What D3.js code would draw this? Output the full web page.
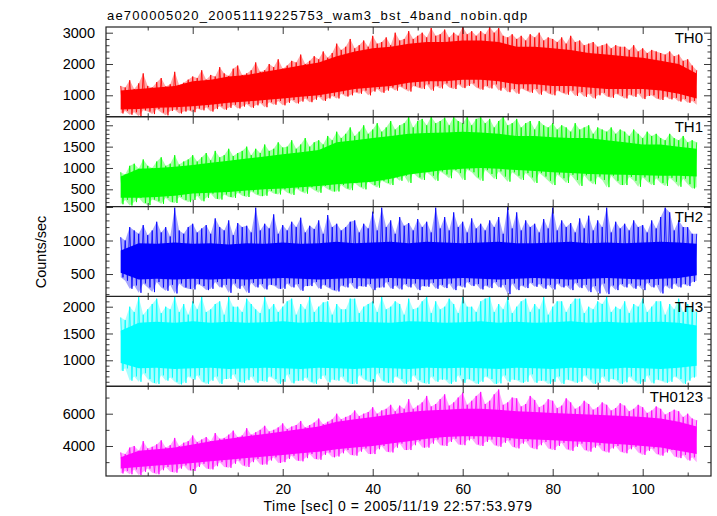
<!DOCTYPE html>
<html><head><meta charset="utf-8">
<script src="https://cdn.jsdelivr.net/npm/d3@7/dist/d3.min.js"></script>
<style>
body{margin:0;background:#fff;}
svg text{font-family:"Liberation Sans",Arial,Helvetica,sans-serif;fill:#000;}
</style></head><body>
<svg id="c" width="717" height="516"></svg>
<script>
// ---------- text ----------
const titleText = "ae700005020_20051119225753_wam3_bst_4band_nobin.qdp";
const xLabelText = "Time [sec] 0 = 2005/11/19 22:57:53.979";
const yLabelText = "Counts/sec";
const seriesNames = ["TH0", "TH1", "TH2", "TH3", "TH0123"];
const seriesColors = ["#ff0000", "#00ff00", "#0000ff", "#00ffff", "#ff00ff"];

// ---------- axes ----------
const xDomain = [-19.27, 115.18];
const xMajorTicks = [0, 20, 40, 60, 80, 100];
const xMinorTicks = [-10, 10, 30, 50, 70, 90, 110];
const yDomains = [[313, 3182], [95, 2199], [166, 1506], [517, 2192], [2142, 7703]];
const yMajorTicks = [[1000, 2000, 3000], [500, 1000, 1500, 2000], [500, 1000, 1500], [1000, 1500, 2000], [4000, 6000]];
const yMinorStep = [200, 100, 100, 100, 1000];

// ---------- data sampling ----------
const coreStart = -16, coreStep = 4;   // dense (solid) part of the band, every 4 s
const extStart = -16, extStep = 1;     // spike maxima / minima, every 1 s (t = -16 ... 112)

// TH0
const th0CoreHi = [1150,1200,1250,1300,1450,1500,1600,1650,1750,1850,1950,2050,2250,2400,2500,2550,2650,2700,2700,2750,2750,2700,2550,2550,2500,2450,2350,2300,2250,2200,2100,2000,1700];
const th0CoreLo = [550,560,600,620,650,700,760,800,850,900,950,1000,1100,1200,1250,1300,1400,1450,1450,1500,1500,1450,1350,1350,1300,1300,1250,1200,1200,1200,1150,1050,900];
const th0Hi = [1300,1250,1480,1200,1380,1700,1300,1250,1420,1550,1280,1350,1750,1320,1400,1500,
  1600,1550,1800,1500,1650,1600,1900,1700,1620,1850,1950,1650,1700,1800,2050,1750,
  1800,2000,1900,2150,1850,1950,2100,2050,2300,2000,2100,2250,2150,2400,2200,2350,
  2650,2450,2550,2800,2500,2600,2750,2550,2900,2650,2700,2850,2600,3000,2750,2800,
  3050,2800,2900,3000,2850,3150,2900,2950,3100,2850,3000,2900,3180,2950,3050,2900,
  3050,2950,3180,3000,3150,2900,2850,2950,2800,2900,2750,2950,2850,3000,2750,2850,
  2800,2700,2850,2650,2900,2700,2750,2600,2650,2700,2550,2600,2650,2500,2600,2550,
  2550,2450,2600,2400,2500,2350,2450,2400,2350,2300,2400,2250,2300,2100,2150,1950,1800];
const th0Lo = [420,500,380,460,330,520,480,400,560,450,360,500,540,420,480,520,
  460,580,520,620,480,560,650,540,600,700,580,640,720,600,680,750,
  620,780,700,820,680,760,850,740,800,900,780,860,950,820,900,980,
  900,1050,960,1000,1100,1050,1150,1000,1120,1200,1080,1150,1250,1150,1280,1200,
  1120,1300,1250,1200,1350,1150,1300,1220,1380,1250,1200,1350,1230,1300,1380,1250,
  1180,1300,1220,1350,1150,1250,1100,1200,1050,1220,1150,1080,1200,1020,1150,1060,
  1000,1150,1080,1020,1150,980,1100,950,1050,900,1000,1080,960,920,1050,980,
  900,1020,950,1060,880,980,1000,900,850,960,870,920,800,880,760,820,700];

// TH1
const th1CoreHi = [800,980,1000,1030,1070,1120,1170,1220,1270,1320,1370,1420,1600,1650,1700,1750,1800,1820,1830,1850,1830,1800,1750,1750,1720,1700,1700,1650,1600,1550,1550,1500,1450];
const th1CoreLo = [300,300,320,350,400,420,440,470,500,520,550,580,620,650,680,750,850,900,950,980,1000,980,950,930,900,880,860,850,840,830,820,820,800];
const th1Hi = [900,850,1050,1100,980,1200,1050,1000,1150,1250,1050,1100,1300,1080,1150,1200,
  1300,1150,1250,1350,1180,1400,1250,1300,1450,1280,1350,1400,1500,1300,1450,1350,
  1550,1400,1450,1600,1480,1500,1650,1450,1550,1700,1500,1600,1650,1550,1750,1650,
  1850,1700,1800,1950,1750,1850,2000,1800,1900,2050,1850,1950,2100,1900,2000,2050,
  2200,1950,2100,2150,2000,2200,2050,2100,2180,2000,2200,2100,2050,2200,2000,2150,
  2200,2050,2150,1950,2100,2200,2000,2050,2150,1950,2050,2100,1900,2100,2000,1950,
  2050,1900,2000,1950,1850,2050,1900,1950,2000,1800,1950,1900,1850,1950,1800,1900,
  1850,1750,1900,1800,1700,1850,1750,1800,1700,1650,1800,1700,1650,1750,1600,1650,1600];
const th1Lo = [150,250,120,200,300,180,130,260,220,160,300,200,180,320,250,200,
  250,350,220,300,400,280,260,380,320,300,420,350,320,450,380,340,
  350,460,400,380,500,420,370,520,450,400,550,480,420,580,500,450,
  450,600,520,480,650,560,500,680,600,540,700,650,600,780,700,820,
  650,880,780,720,900,820,700,920,850,760,950,880,720,960,900,780,
  700,950,860,740,920,800,680,900,820,720,880,780,650,880,800,700,
  600,850,760,650,840,720,580,830,700,620,800,720,550,820,700,600,
  600,790,700,560,780,680,600,760,650,580,770,680,560,750,620,520,550];

// TH2
const th2CoreHi = [850,960,950,970,950,960,940,960,950,970,950,960,980,960,970,980,960,980,970,960,970,980,960,960,970,980,960,970,960,970,980,970,950];
const th2CoreLo = [520,420,430,420,430,420,430,420,430,440,430,420,430,440,430,440,430,420,430,440,430,420,430,440,430,420,430,440,430,420,430,440,480];
const th2Hi = [1050,1000,1200,1150,1100,1230,1080,1150,1280,1120,1200,1060,1490,1150,1100,1200,
  1250,1120,1180,1230,1100,1330,1200,1150,1300,1080,1260,1200,1220,1120,1490,1150,
  1250,1180,1390,1100,1230,1150,1280,1200,1340,1120,1220,1170,1300,1100,1380,1200,
  1250,1150,1200,1280,1300,1120,1250,1180,1430,1150,1490,1200,1300,1100,1350,1220,
  1260,1150,1320,1200,1280,1120,1490,1180,1350,1150,1420,1200,1280,1120,1330,1180,
  1250,1150,1300,1200,1350,1100,1500,1180,1420,1150,1300,1200,1250,1120,1320,1180,
  1490,1150,1300,1200,1260,1120,1330,1180,1370,1150,1300,1200,1490,1120,1280,1180,
  1250,1150,1300,1200,1230,1120,1300,1180,1350,1490,1420,1150,1300,1200,1200,1100,1100];
const th2Lo = [450,400,280,330,220,360,300,230,380,300,250,340,210,360,300,280,
  270,350,320,260,280,380,300,340,220,360,280,330,220,370,300,350,
  270,340,330,280,280,360,300,350,250,320,320,380,280,340,300,260,
  240,330,300,370,280,320,310,350,260,300,300,380,280,330,270,350,
  300,360,260,320,310,370,280,340,290,360,260,330,300,380,320,350,
  270,330,290,380,300,340,200,360,260,330,290,370,310,350,280,340,
  270,360,300,330,260,370,290,340,230,320,210,360,200,330,260,350,
  300,360,280,330,260,370,300,340,210,330,280,360,300,350,320,380,400];

// TH3
const th3CoreHi = [1550,1700,1720,1700,1730,1700,1720,1700,1710,1730,1700,1720,1700,1720,1710,1700,1730,1720,1700,1710,1730,1700,1720,1700,1710,1730,1700,1720,1700,1710,1720,1700,1650];
const th3CoreLo = [950,850,860,840,850,860,840,850,860,850,840,860,850,840,860,850,840,860,850,860,850,840,860,850,840,860,850,840,860,850,840,860,900];
const th3Hi = [1800,1750,2000,1900,2180,1850,1950,2050,2150,1880,2000,1950,2180,1900,2050,1850,
  2100,1950,2180,1900,1950,2050,2100,1850,2180,2000,2000,1900,2150,2050,1950,1880,
  2180,1950,2050,1900,2000,2100,2150,1850,2050,1950,2180,1900,2000,2080,2100,1850,
  2050,1950,1950,2150,2150,1880,2000,2050,2100,1900,2180,1950,2000,2100,2050,1850,
  2150,1950,1980,2100,2180,1880,2100,1950,2000,2150,2050,1880,2180,2000,2000,1900,
  2100,2150,2180,1900,2050,1950,2180,1880,2000,2100,2150,1900,2050,1950,2180,1850,
  2000,2100,2100,1900,2050,2150,2150,1880,2000,1950,2100,2050,2180,1900,2000,1950,
  2100,1880,2050,2000,2150,1900,2000,2100,2100,1850,2050,1950,2150,1900,2050,1950,1900];
const th3Lo = [800,850,620,700,600,760,650,580,560,720,620,680,600,550,580,700,
  640,720,600,560,620,700,560,650,650,740,600,580,630,700,580,620,
  600,700,650,560,600,740,570,620,620,680,600,560,650,720,590,640,
  620,700,600,560,560,720,640,600,600,760,620,580,580,700,650,560,
  600,720,630,580,560,700,600,640,640,560,600,720,580,650,620,560,
  600,700,650,560,570,720,600,640,630,580,600,740,580,620,620,560,
  600,700,560,640,620,580,600,720,640,560,580,700,600,650,630,560,
  590,700,620,560,600,720,570,640,620,580,600,700,650,560,620,680,700];

// TH0123
const th0123CoreHi = [3300,3700,3800,3900,4100,4300,4450,4600,4750,4900,5050,5200,5500,5650,5800,5950,6100,6200,6250,6300,6300,6250,6150,6100,6050,6000,5950,5900,5850,5800,5700,5500,5200];
const th0123CoreLo = [2600,2700,2800,2850,2950,3050,3150,3250,3350,3450,3550,3650,3800,3900,4000,4150,4300,4450,4550,4600,4600,4550,4450,4400,4350,4300,4250,4150,4100,4000,3900,3700,3500];
const th0123Hi = [3600,3500,3900,4000,3700,4300,3850,3950,4100,4350,3900,4050,4500,4000,4200,4300,
  4650,4250,4400,4550,4300,4800,4450,4500,4700,4950,4550,4650,5100,4700,4850,5000,
  5250,4900,5000,5150,5400,5050,5200,5300,5550,5150,5300,5450,5700,5350,5500,5650,
  6000,5650,5800,5900,6200,5850,6000,6100,6400,6000,6200,6300,6550,6150,6500,6300,
  6900,6300,6500,6700,7100,6450,6600,6900,7200,6500,6700,7000,7300,6550,6800,7100,
  7350,6600,6800,7200,7500,6550,6700,7000,6950,6450,6600,7100,6850,6400,6550,6900,
  6800,6350,6500,6950,6700,6300,6450,6800,6600,6250,6400,6700,6550,6200,6350,6650,
  6500,6150,6300,6550,6400,6050,6200,6450,6300,5950,6100,6250,6150,5800,6000,5700,5600];
const th0123Lo = [2300,2450,2250,2550,2200,2400,2600,2350,2250,2500,2700,2400,2350,2600,2800,2500,
  2450,2700,2900,2600,2550,2750,3000,2700,2650,2900,3100,2800,2700,3000,3200,2850,
  2850,3100,3300,2950,3000,3200,3400,3100,3050,3250,3500,3200,3150,3450,3600,3300,
  3350,3550,3750,3450,3400,3650,3850,3500,3500,3800,4000,3650,3600,3900,4150,3750,
  3750,4050,4300,3900,3900,4150,4400,4050,4000,4250,4450,4100,4050,4350,4450,4100,
  4000,4250,4400,4050,3950,4200,4350,3950,3850,4150,4300,3900,3800,4050,4250,3850,
  3750,4000,4200,3800,3700,3950,4150,3750,3650,3900,4050,3700,3600,3850,4000,3650,
  3550,3800,3950,3600,3450,3700,3850,3500,3400,3600,3750,3350,3250,3450,3100,3300,3000];

const coreHi = [th0CoreHi, th1CoreHi, th2CoreHi, th3CoreHi, th0123CoreHi];
const coreLo = [th0CoreLo, th1CoreLo, th2CoreLo, th3CoreLo, th0123CoreLo];
const extHi = [th0Hi, th1Hi, th2Hi, th3Hi, th0123Hi];
const extLo = [th0Lo, th1Lo, th2Lo, th3Lo, th0123Lo];

// ---------- layout ----------
const left = 106, right = 711;
const panelEdges = [27, 116.8, 206.6, 296.4, 386.2, 476];
const majorLen = 7, minorLen = 3.5;

const svg = d3.select("#c");
const x = d3.scaleLinear().domain(xDomain).range([left, right]);
const defs = svg.append("defs");

seriesNames.forEach((name, k) => {
  const top = panelEdges[k], bot = panelEdges[k + 1];
  const y = d3.scaleLinear().domain(yDomains[k]).range([bot, top]);
  const col = seriesColors[k];

  defs.append("clipPath").attr("id", "clip" + k)
    .append("rect").attr("x", left).attr("y", top).attr("width", right - left).attr("height", bot - top);
  const g = svg.append("g").attr("clip-path", `url(#clip${k})`);

  const ext = extHi[k].map((v, i) => ({ t: extStart + i * extStep, hi: v, lo: extLo[k][i] }));
  const core = coreHi[k].map((v, i) => ({ t: coreStart + i * coreStep, hi: v, lo: coreLo[k][i] }));
  // noisy trace: each 1-s sample drawn as its maximum then its minimum
  const trace = [];
  ext.forEach((d, i) => {
    trace.push({ t: d.t, v: d.hi });
    if (i < ext.length - 1) trace.push({ t: d.t + extStep / 2, v: d.lo });
  });

  const area = d3.area().x(d => x(d.t)).y0(d => y(d.lo)).y1(d => y(d.hi));
  g.append("path").datum(ext).attr("d", area).attr("fill", col).attr("fill-opacity", 0.35);
  g.append("path").datum(trace).attr("d", d3.line().x(d => x(d.t)).y(d => y(d.v)))
    .attr("fill", "none").attr("stroke", col).attr("stroke-width", 1).attr("stroke-opacity", 0.85);
  g.append("path").datum(core).attr("d", area).attr("fill", col);

  const minor = d3.range(Math.ceil(yDomains[k][0] / yMinorStep[k]) * yMinorStep[k], yDomains[k][1], yMinorStep[k])
    .filter(v => !yMajorTicks[k].includes(v));
  const ax = (gen, tx, ty) => {
    const a = svg.append("g").attr("transform", `translate(${tx},${ty})`).call(gen);
    a.select(".domain").remove();
    a.selectAll("line").attr("stroke", "#222").attr("stroke-width", 0.9);
    return a;
  };
  const la = ax(d3.axisLeft(y).tickValues(yMajorTicks[k]).tickSize(-majorLen).tickPadding(11).tickFormat(d3.format("d")), left, 0);
  la.selectAll("text").attr("font-size", 14.5).attr("font-family", '"Liberation Sans", Arial, sans-serif');
  ax(d3.axisLeft(y).tickValues(minor).tickSize(-minorLen).tickFormat(""), left, 0);
  ax(d3.axisRight(y).tickValues(yMajorTicks[k]).tickSize(-majorLen).tickFormat(""), right, 0);
  ax(d3.axisRight(y).tickValues(minor).tickSize(-minorLen).tickFormat(""), right, 0);

  ax(d3.axisTop(x).tickValues(xMajorTicks).tickSize(-majorLen).tickFormat(""), 0, top);
  ax(d3.axisTop(x).tickValues(xMinorTicks).tickSize(-minorLen).tickFormat(""), 0, top);
  const isLast = k === seriesNames.length - 1;
  const ba = ax(d3.axisBottom(x).tickValues(xMajorTicks).tickSize(-majorLen).tickPadding(8)
    .tickFormat(isLast ? d3.format("d") : ""), 0, bot);
  ba.selectAll("text").attr("font-size", 14).attr("font-family", '"Liberation Sans", Arial, sans-serif');
  ax(d3.axisBottom(x).tickValues(xMinorTicks).tickSize(-minorLen).tickFormat(""), 0, bot);

  svg.append("text").attr("x", 703).attr("y", top + 15.5).attr("text-anchor", "end")
    .attr("font-size", 15).text(name);
});

svg.append("rect").attr("x", left).attr("y", panelEdges[0]).attr("width", right - left)
  .attr("height", panelEdges[5] - panelEdges[0]).attr("fill", "none").attr("stroke", "#222").attr("stroke-width", 1.2);
panelEdges.slice(1, 5).forEach(e => {
  svg.append("line").attr("x1", left).attr("x2", right).attr("y1", e).attr("y2", e)
    .attr("stroke", "#222").attr("stroke-width", 1.4);
});

svg.append("text").attr("x", 107).attr("y", 20).attr("font-size", 13).attr("letter-spacing", 1.2).text(titleText);
svg.append("text").attr("x", 398).attr("y", 511).attr("text-anchor", "middle")
  .attr("font-size", 14).attr("letter-spacing", 0.6).text(xLabelText);
svg.append("text").attr("transform", "translate(46,252) rotate(-90)").attr("text-anchor", "middle")
  .attr("font-size", 14.5).text(yLabelText);
</script>
</body></html>
